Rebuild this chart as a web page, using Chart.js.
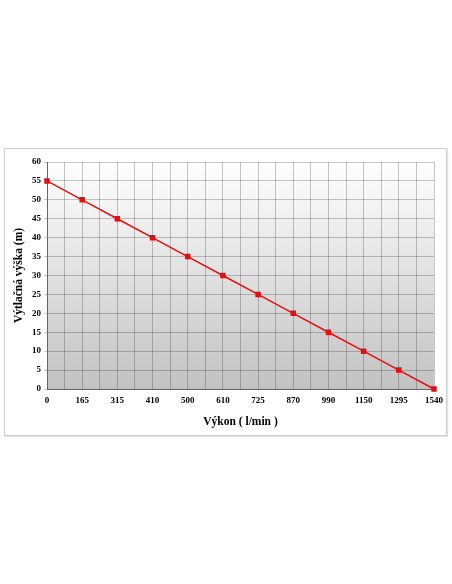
<!DOCTYPE html>
<html><head><meta charset="utf-8">
<script src="https://cdn.jsdelivr.net/npm/chart.js@4/dist/chart.umd.min.js"></script>
<style>
html,body{margin:0;padding:0;background:#fff;}
#frame{position:absolute;left:4px;top:148px;width:441px;height:286px;border:1px solid #cfcfcf;box-shadow:1px 1px 1px #e4e4e4;}
#wrap{position:absolute;left:0;top:0;width:452px;height:584px;}
</style></head>
<body>
<div id="frame"></div>
<div id="wrap"><canvas id="c" width="452" height="584"></canvas></div>
<script>
const categories = ["0","165","315","410","500","610","725","870","990","1150","1295","1540"];
const heights = [55,50,45,40,35,30,25,20,15,10,5,0];
const yTicks = [0,5,10,15,20,25,30,35,40,45,50,55,60];

const bgPlugin = {
  id:'bg',
  beforeDraw(chart){
    const {ctx, chartArea:a} = chart;
    const g = ctx.createLinearGradient(0,a.top,0,a.bottom);
    g.addColorStop(0,'#ffffff');
    g.addColorStop(1,'#c2c2c2');
    ctx.save(); ctx.fillStyle=g; ctx.fillRect(a.left,a.top,a.right-a.left,a.bottom-a.top); ctx.restore();
  }
};
const serif = "'Liberation Serif','Times New Roman',serif";
const gridCol = 'rgba(0,0,0,0.22)';
new Chart(document.getElementById('c'),{
  type:'line',
  data:{datasets:[{
    data: heights.map((v,i)=>({x:i,y:v})),
    borderColor:'#e01010', backgroundColor:'#e01010', borderWidth:1.5,
    pointStyle:'rect', pointRadius:2.8, pointHoverRadius:3, tension:0, clip:false
  }]},
  options:{
    responsive:false, animation:false, devicePixelRatio:1,
    plugins:{legend:{display:false}, tooltip:{enabled:false}},
    layout:{padding:{left:0,top:162,right:18,bottom:150}},
    scales:{
      x:{type:'linear', min:0, max:categories.length-1,
        afterBuildTicks(s){ const t=[]; for(let v=0; v<=categories.length-1+1e-9; v+=0.5) t.push({value:v}); s.ticks=t; },
        afterFit(s){ s.height=45; },
        ticks:{autoSkip:false, maxRotation:0, padding:6, color:'#000', font:{family:serif, size:9, weight:'bold'},
          callback(v){ return Number.isInteger(v) ? categories[v] : ''; }},
        grid:{color:gridCol, drawTicks:false, lineWidth:1},
        border:{color:'#666', width:1},
        title:{display:true, text:'Výkon ( l/min )', color:'#000', font:{family:serif, size:11.5, weight:'bold'}, padding:{top:0,bottom:5}}
      },
      y:{min:0, max:60,
        afterBuildTicks(s){ s.ticks = yTicks.map(v=>({value:v})); },
        afterFit(s){ s.width=47; },
        ticks:{padding:3, color:'#000', font:{family:serif, size:9, weight:'bold'}},
        grid:{color:gridCol, tickLength:3, lineWidth:1},
        border:{color:'#666', width:1},
        title:{display:true, text:'Výtlačná výška (m)', color:'#000', font:{family:serif, size:11.5, weight:'bold'}, padding:{top:12,bottom:0}}
      }
    }
  },
  plugins:[bgPlugin]
});
</script>
</body></html>
